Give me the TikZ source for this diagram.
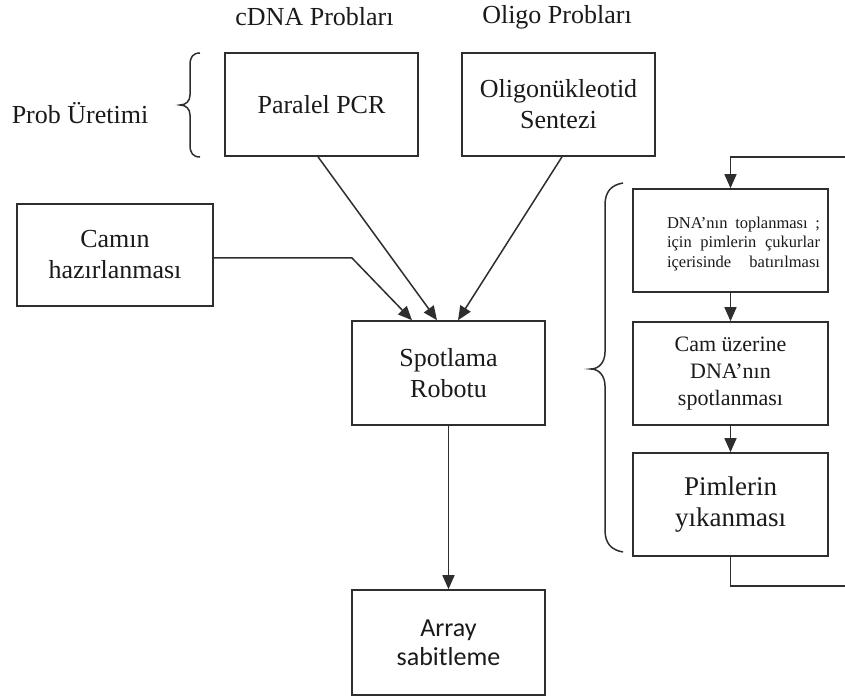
\documentclass[tikz,border=0pt]{standalone}
\usepackage{fontspec}
\setmainfont{Liberation Serif}
\newfontfamily\calfont{Carlito}
\usetikzlibrary{arrows.meta}
\definecolor{linecol}{HTML}{2E2E2E}
\definecolor{textcol}{HTML}{1A1A1A}
\begin{document}
\begin{tikzpicture}[x=1pt,y=-1pt,
  box/.style={draw=linecol, line width=1.6pt, inner sep=0pt, align=center, text=textcol,
              font=\fontsize{26}{31}\selectfont},
  arr/.style={draw=linecol, line width=1.5pt, -{Triangle[length=14pt,width=12pt]}},
  ln/.style={draw=linecol, line width=1.5pt},
  lbl/.style={text=textcol, font=\fontsize{26}{31}\selectfont, inner sep=0pt}]
\useasboundingbox[fill=white] (0,0) rectangle (845,700);

% titles
\node[lbl] (t1) at (314.5,17) {cDNA Probları};
\node[lbl] (t2) at (557,17) {Oligo Probları};
\node[lbl] (t3) at (80,113) {Prob Üretimi};

% left boxes
\node[box, minimum width=193pt, minimum height=103pt] (par) at (321.5,104.5) {Paralel PCR};
\node[box, minimum width=193pt, minimum height=103pt] (oli) at (558.5,104.5) {Oligonükleotid\\Sentezi};
\node[box, minimum width=196pt, minimum height=102pt] (cam) at (115,255) {Camın\\hazırlanması};
\node[box, minimum width=193pt, minimum height=104pt] (spot) at (448.5,373) {Spotlama\\Robotu};
\node[box, minimum width=193pt, minimum height=105pt, font=\calfont\fontsize{26}{29}\selectfont] (arr) at (448.5,642.5) {Array\\sabitleme};

% right boxes
\node[box, minimum width=195pt, minimum height=103pt] (b1) at (730.5,240.5) {};
\node[text=textcol, font=\fontsize{16.5}{19.5}\selectfont, align=left, inner sep=0pt] (b1t) at (743.5,244)
  {\makebox[153pt][s]{DNA’nın toplanması ;}\\\makebox[153pt][s]{için pimlerin çukurlar}\\\makebox[153pt][s]{içerisinde batırılması}};
\node[box, minimum width=195pt, minimum height=103pt, font=\fontsize{22}{27}\selectfont] (b2) at (730.5,373.5) {Cam üzerine\\DNA’nın\\spotlanması};
\node[box, minimum width=195pt, minimum height=103pt, font=\fontsize{27}{31}\selectfont] (b3) at (730.5,504.5) {Pimlerin\\yıkanması};

% braces
\draw[ln] (200,53) .. controls (193,53) and (190,57) .. (190,65) -- (190,95)
  .. controls (190,101) and (186,105) .. (180,105)
  .. controls (186,105) and (190,109) .. (190,115) -- (190,145)
  .. controls (190,153) and (193,157) .. (200,157);
\draw[ln] (623,183) .. controls (611,185) and (605,192) .. (605,205) -- (605,352)
  .. controls (605,362) and (599,369) .. (591,369)
  .. controls (599,369) and (605,376) .. (605,386) -- (605,530)
  .. controls (605,543) and (611,550) .. (623,552);

% connectors
\coordinate (bend) at (352,258);
\draw[arr] ([yshift=-3pt]cam.east) -- (bend) -- ([xshift=-36.5pt]spot.north);
\draw[arr] ([xshift=-3.5pt]par.south) -- ([xshift=-11.5pt]spot.north);
\draw[arr] ([xshift=3.5pt]oli.south) -- ([xshift=9.5pt]spot.north);
\draw[arr] (spot.south) -- (arr.north);

\draw[arr] (b1.south) -- (b2.north);
\draw[arr] (b2.south) -- (b3.north);
\coordinate (loopB) at (845,586);
\coordinate (loopT) at (845,157);
\draw[ln] (b3.south) -- (b3.south |- loopB) -- (loopB);
\draw[arr] (loopT) -- (b1.north |- loopT) -- (b1.north);
\end{tikzpicture}
\end{document}
